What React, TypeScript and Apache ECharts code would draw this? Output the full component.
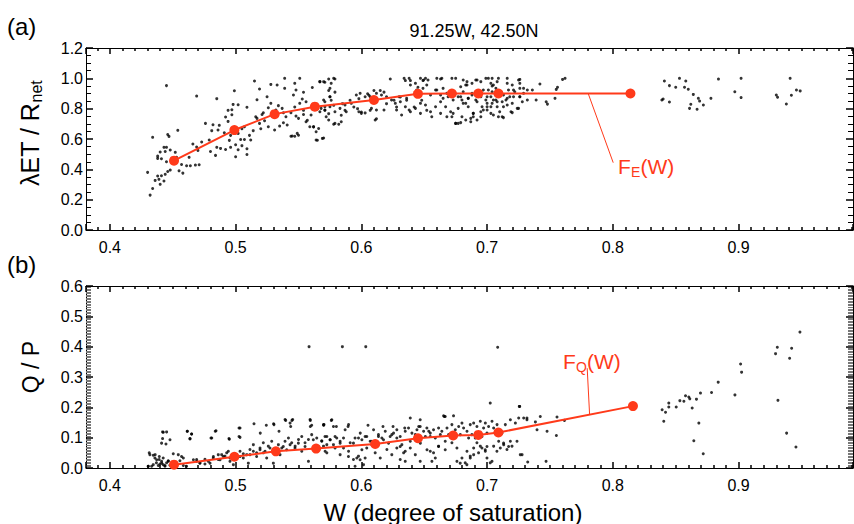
import React, { useEffect, useRef } from "react";
import * as echarts from "echarts";

// ---------- data ----------
const X_MIN = 0.381;
const X_MAX = 0.991;

// Panel (a): lambda ET / Rnet vs W (scatter)
const etPoints: [number, number][] = [
  [0.445, 0.952], [0.469, 0.883], [0.485, 0.866], [0.515, 0.982], [0.519, 0.93], [0.528, 0.96], [0.533, 0.956],
  [0.539, 1.0], [0.551, 1.0], [0.547, 0.967], [0.539, 0.934], [0.548, 0.923], [0.554, 0.908], [0.561, 0.94],
  [0.567, 0.978], [0.571, 0.974], [0.499, 0.918], [0.525, 0.879], [0.517, 0.859], [0.502, 0.826], [0.498, 0.828],
  [0.509, 0.809], [0.494, 0.789], [0.497, 0.793], [0.497, 0.76], [0.492, 0.745], [0.494, 0.716], [0.487, 0.69],
  [0.476, 0.703], [0.482, 0.694], [0.481, 0.655], [0.486, 0.659], [0.491, 0.641], [0.496, 0.624], [0.495, 0.591],
  [0.504, 0.597], [0.507, 0.597], [0.505, 0.556], [0.5, 0.562], [0.496, 0.545], [0.492, 0.531], [0.502, 0.529],
  [0.509, 0.536], [0.5, 0.483], [0.509, 0.498], [0.488, 0.538], [0.485, 0.545], [0.484, 0.492], [0.48, 0.518],
  [0.479, 0.593], [0.473, 0.58], [0.47, 0.525], [0.466, 0.567], [0.469, 0.547], [0.463, 0.479], [0.471, 0.43],
  [0.468, 0.428], [0.464, 0.424], [0.461, 0.424], [0.457, 0.432], [0.455, 0.39], [0.458, 0.375], [0.453, 0.479],
  [0.452, 0.512], [0.445, 0.545], [0.444, 0.518], [0.44, 0.514], [0.438, 0.487], [0.438, 0.472], [0.441, 0.47],
  [0.445, 0.45], [0.448, 0.395], [0.446, 0.386], [0.444, 0.367], [0.441, 0.358], [0.438, 0.356], [0.439, 0.334],
  [0.443, 0.323], [0.44, 0.301], [0.436, 0.327], [0.43, 0.38], [0.434, 0.274], [0.432, 0.23], [0.434, 0.611],
  [0.446, 0.63], [0.447, 0.617], [0.454, 0.657], [0.443, 0.545], [0.448, 0.527],
  [0.522, 0.773], [0.526, 0.806], [0.528, 0.835], [0.532, 0.791], [0.534, 0.82], [0.537, 0.802], [0.538, 0.773],
  [0.54, 0.747], [0.538, 0.707], [0.535, 0.685], [0.531, 0.659], [0.526, 0.681], [0.523, 0.72], [0.519, 0.703],
  [0.52, 0.668], [0.517, 0.736], [0.514, 0.655], [0.511, 0.624], [0.512, 0.593], [0.507, 0.681], [0.505, 0.668],
  [0.502, 0.637], [0.516, 0.747], [0.521, 0.762], [0.541, 0.692], [0.545, 0.62], [0.549, 0.637], [0.55, 0.736],
  [0.544, 0.773], [0.548, 0.751], [0.554, 0.762], [0.556, 0.846], [0.553, 0.864], [0.546, 0.89], [0.551, 0.835],
  [0.556, 0.714], [0.562, 0.681], [0.559, 0.681], [0.564, 0.648], [0.564, 0.593], [0.569, 0.604], [0.56, 0.758],
  [0.567, 0.78], [0.571, 0.813], [0.572, 0.747], [0.574, 0.725], [0.57, 0.857], [0.575, 0.879],
  [0.579, 0.996], [0.574, 0.996], [0.567, 0.978], [0.574, 0.92], [0.579, 0.909], [0.576, 0.855], [0.578, 0.822],
  [0.571, 0.789], [0.574, 0.767], [0.578, 0.697], [0.582, 0.697], [0.584, 0.757], [0.587, 0.789], [0.594, 0.811],
  [0.598, 0.866], [0.605, 0.898], [0.606, 0.888], [0.61, 0.92], [0.615, 0.92], [0.618, 0.909], [0.623, 0.996],
  [0.626, 0.855], [0.631, 0.877], [0.635, 0.985], [0.639, 0.985], [0.643, 0.967], [0.645, 0.941], [0.649, 0.985],
  [0.652, 0.789], [0.607, 0.789], [0.6, 0.778], [0.603, 0.772], [0.612, 0.734], [0.597, 0.8], [0.591, 0.855],
  [0.585, 0.833], [0.62, 0.833], [0.628, 0.811], [0.636, 0.855], [0.642, 0.811], [0.648, 0.855], [0.562, 0.68],
  [0.565, 0.592], [0.57, 0.607], [0.566, 0.669], [0.557, 0.723], [0.554, 0.789], [0.547, 0.811], [0.544, 0.618],
  [0.547, 0.618], [0.55, 0.625],
  [0.578, 1.0], [0.576, 0.967], [0.575, 0.934], [0.57, 0.978], [0.575, 0.879], [0.571, 0.846], [0.568, 0.802],
  [0.571, 0.791], [0.575, 0.813], [0.579, 0.78], [0.583, 0.802], [0.587, 0.824], [0.588, 0.78], [0.592, 0.835],
  [0.596, 0.89], [0.599, 0.901], [0.603, 0.879], [0.607, 0.879], [0.612, 0.901], [0.616, 0.89], [0.62, 0.879],
  [0.634, 1.0], [0.638, 1.0], [0.639, 0.956], [0.647, 1.0], [0.651, 1.0], [0.652, 0.956],
  [0.66, 1.0], [0.664, 1.0], [0.672, 1.0], [0.675, 1.0], [0.679, 0.945], [0.683, 0.956], [0.684, 0.978],
  [0.688, 0.967], [0.692, 0.989], [0.701, 1.0], [0.704, 1.0], [0.703, 0.967], [0.705, 0.956], [0.708, 0.978],
  [0.716, 0.967], [0.72, 0.956], [0.725, 0.989], [0.726, 0.934], [0.721, 0.879], [0.716, 0.868], [0.724, 0.802],
  [0.719, 0.78], [0.712, 0.747], [0.705, 0.758], [0.7, 0.791], [0.695, 0.78], [0.689, 0.747], [0.685, 0.813],
  [0.681, 0.835], [0.677, 0.802], [0.673, 0.769], [0.677, 0.703], [0.675, 0.703], [0.671, 0.78], [0.667, 0.813],
  [0.663, 0.846], [0.659, 0.813], [0.655, 0.78], [0.651, 0.824], [0.647, 0.835], [0.643, 0.802], [0.639, 0.78],
  [0.635, 0.813], [0.631, 0.846], [0.627, 0.835], [0.624, 0.857], [0.63, 0.879], [0.636, 0.868], [0.644, 0.923],
  [0.649, 0.934], [0.655, 0.89], [0.659, 0.923], [0.665, 0.934], [0.668, 0.901], [0.679, 0.879], [0.681, 0.912],
  [0.685, 0.868], [0.688, 0.901], [0.697, 0.923], [0.7, 0.879], [0.704, 0.912], [0.707, 0.857], [0.7, 0.835],
  [0.703, 0.813], [0.708, 0.813], [0.712, 0.846], [0.716, 0.824], [0.692, 0.846], [0.696, 0.813], [0.68, 0.747],
  [0.683, 0.725], [0.579, 0.703], [0.584, 0.714], [0.611, 0.725], [0.612, 0.791], [0.608, 0.802], [0.598, 0.78],
  [0.6, 0.769], [0.618, 0.791], [0.628, 0.791], [0.632, 0.758], [0.638, 0.791], [0.647, 0.769], [0.656, 0.747],
  [0.663, 0.769], [0.668, 0.747], [0.687, 0.714], [0.689, 0.769], [0.692, 0.725], [0.695, 0.747], [0.703, 0.769],
  [0.71, 0.78], [0.713, 0.813], [0.72, 0.835], [0.726, 0.879], [0.729, 0.901], [0.728, 0.846],
  [0.709, 1.0], [0.716, 1.0], [0.726, 0.993], [0.726, 0.967], [0.729, 0.934], [0.732, 0.923], [0.726, 0.879],
  [0.732, 0.857], [0.725, 0.802], [0.72, 0.774], [0.713, 0.741], [0.709, 0.747], [0.739, 0.857], [0.742, 0.963],
  [0.747, 0.846], [0.748, 0.83], [0.754, 0.868], [0.755, 0.927], [0.756, 0.941], [0.76, 0.993], [0.762, 1.0],
  [0.672, 0.747], [0.675, 0.703], [0.679, 0.708], [0.687, 0.736], [0.689, 0.769], [0.697, 0.791], [0.7, 0.813],
  [0.704, 0.835], [0.708, 0.846], [0.715, 0.857], [0.718, 0.879], [0.722, 0.912], [0.736, 0.923],
  [0.6495, 0.989], [0.653, 0.989], [0.663, 0.996], [0.66, 0.923], [0.663, 0.89], [0.665, 0.868], [0.669, 0.879],
  [0.673, 0.857], [0.677, 0.879], [0.68, 0.857], [0.683, 0.835], [0.685, 0.868], [0.688, 0.89], [0.691, 0.857],
  [0.695, 0.879], [0.699, 0.857], [0.703, 0.879], [0.705, 0.857], [0.701, 0.923], [0.704, 0.949], [0.707, 0.934],
  [0.711, 0.912], [0.713, 0.89], [0.717, 0.923], [0.721, 0.923], [0.684, 0.956], [0.681, 0.989], [0.691, 0.989],
  [0.695, 0.978], [0.699, 1.0],
  [0.841, 0.982], [0.845, 0.952], [0.85, 0.941], [0.853, 1.0], [0.857, 0.941], [0.858, 0.982], [0.86, 0.928],
  [0.864, 0.894], [0.868, 0.868], [0.869, 0.85], [0.862, 0.829], [0.861, 0.802], [0.867, 0.796], [0.872, 0.824],
  [0.878, 0.868], [0.839, 0.857], [0.84, 0.864], [0.845, 0.844], [0.884, 0.995], [0.897, 0.912], [0.902, 1.0],
  [0.902, 0.873], [0.93, 0.89], [0.931, 0.875], [0.938, 0.831], [0.941, 1.0], [0.942, 0.888], [0.946, 0.923],
  [0.949, 0.917],
];

// Panel (b): Q / P vs W (scatter)
const qpPoints: [number, number][] = [
  [0.5584, 0.4], [0.5849, 0.4], [0.6035, 0.4], [0.4425, 0.118], [0.4411, 0.082], [0.4478, 0.093],
  [0.4616, 0.121], [0.465, 0.112], [0.4637, 0.096], [0.4804, 0.099], [0.4838, 0.121], [0.4947, 0.097],
  [0.5027, 0.132], [0.5027, 0.104], [0.5146, 0.146], [0.5196, 0.115], [0.5244, 0.141], [0.5302, 0.146],
  [0.5345, 0.121], [0.5398, 0.157], [0.5448, 0.157], [0.5438, 0.137], [0.5594, 0.157], [0.5594, 0.137],
  [0.5629, 0.071], [0.57, 0.141], [0.5761, 0.157], [0.5801, 0.137], [0.5894, 0.137], [0.6053, 0.141],
  [0.6172, 0.137], [0.6252, 0.137], [0.6345, 0.132], [0.6456, 0.137],
  [0.4305, 0.006], [0.4345, 0.011], [0.4313, 0.05], [0.436, 0.044], [0.4393, 0.038], [0.4372, 0.027],
  [0.4412, 0.016], [0.4438, 0.008], [0.4465, 0.022], [0.4491, 0.011], [0.4504, 0.047], [0.4544, 0.044],
  [0.457, 0.038], [0.4584, 0.008], [0.4664, 0.027], [0.469, 0.022], [0.4716, 0.016], [0.4756, 0.029],
  [0.4796, 0.016], [0.4823, 0.038], [0.4862, 0.044], [0.4876, 0.027], [0.4902, 0.038], [0.4929, 0.05],
  [0.4955, 0.033], [0.4982, 0.011], [0.5035, 0.038], [0.5061, 0.047], [0.5101, 0.016], [0.5114, 0.044],
  [0.5141, 0.055], [0.5167, 0.038], [0.5194, 0.06], [0.522, 0.05], [0.5247, 0.033], [0.5273, 0.066],
  [0.53, 0.016], [0.5353, 0.044], [0.5379, 0.071], [0.5406, 0.06], [0.5433, 0.077], [0.5472, 0.066],
  [0.5499, 0.082], [0.5526, 0.055], [0.5552, 0.071], [0.5579, 0.022], [0.5618, 0.093], [0.5658, 0.071],
  [0.5685, 0.088], [0.5725, 0.05], [0.5751, 0.093], [0.5778, 0.077], [0.5804, 0.099], [0.5831, 0.082],
  [0.5858, 0.066], [0.5897, 0.038], [0.5937, 0.082], [0.5977, 0.099], [0.6004, 0.06], [0.599, 0.027],
  [0.603, 0.033], [0.6043, 0.104], [0.6083, 0.088], [0.6136, 0.104], [0.6176, 0.093], [0.6216, 0.082],
  [0.6242, 0.11], [0.6282, 0.099], [0.6309, 0.071], [0.6336, 0.05], [0.6349, 0.022], [0.6389, 0.088],
  [0.6429, 0.11], [0.6469, 0.082], [0.6509, 0.104], [0.6536, 0.121], [0.6522, 0.06],
  [0.437, 0.017], [0.4385, 0.008], [0.4398, 0.013], [0.4411, 0.022], [0.4424, 0.011], [0.4438, 0.006],
  [0.4451, 0.017], [0.4464, 0.024], [0.4477, 0.009], [0.4392, 0.028], [0.4424, 0.033], [0.4318, 0.044],
  [0.4345, 0.042], [0.4358, 0.033], [0.4305, 0.006], [0.4332, 0.006], [0.453, 0.011], [0.4557, 0.024],
  [0.4584, 0.033], [0.461, 0.006], [0.4419, 0.119], [0.4419, 0.097], [0.4451, 0.119], [0.4446, 0.079],
  [0.4615, 0.121], [0.465, 0.112], [0.4637, 0.097], [0.481, 0.099], [0.4844, 0.123], [0.469, 0.028],
  [0.4716, 0.017], [0.4756, 0.013], [0.4783, 0.022], [0.4822, 0.033], [0.4862, 0.028], [0.4889, 0.044],
  [0.4915, 0.039], [0.4942, 0.055], [0.4955, 0.022], [0.5008, 0.044], [0.5035, 0.055], [0.5061, 0.033],
  [0.5088, 0.044], [0.5114, 0.061], [0.5141, 0.077], [0.5167, 0.05], [0.5194, 0.066], [0.522, 0.083],
  [0.5234, 0.055], [0.526, 0.072], [0.5287, 0.088], [0.534, 0.077], [0.5367, 0.066], [0.5393, 0.088],
  [0.542, 0.099], [0.5446, 0.083], [0.5473, 0.072], [0.55, 0.094], [0.5526, 0.104], [0.5552, 0.083],
  [0.5579, 0.094], [0.5605, 0.11], [0.5645, 0.099], [0.5685, 0.09], [0.5711, 0.104], [0.5725, 0.077],
  [0.5035, 0.132], [0.5035, 0.101], [0.495, 0.095], [0.5305, 0.143], [0.5393, 0.16], [0.5454, 0.16],
  [0.5433, 0.148], [0.5592, 0.16], [0.5605, 0.141], [0.5703, 0.143],
  [0.5699, 0.143], [0.5765, 0.159], [0.5778, 0.137], [0.5871, 0.126], [0.5898, 0.143], [0.5725, 0.104],
  [0.5752, 0.093], [0.5791, 0.104], [0.5831, 0.088], [0.5858, 0.099], [0.5911, 0.083], [0.595, 0.099],
  [0.5991, 0.115], [0.6004, 0.093], [0.603, 0.104], [0.607, 0.088], [0.6097, 0.126], [0.6136, 0.11],
  [0.6163, 0.099], [0.619, 0.121], [0.6229, 0.104], [0.6256, 0.115], [0.6282, 0.126], [0.6309, 0.104],
  [0.6349, 0.121], [0.6375, 0.132], [0.6402, 0.115], [0.6442, 0.126], [0.6468, 0.137], [0.6495, 0.121],
  [0.6521, 0.132], [0.6548, 0.115], [0.6574, 0.126], [0.6614, 0.132], [0.664, 0.121], [0.6667, 0.17],
  [0.6681, 0.132], [0.672, 0.143], [0.6747, 0.126], [0.6774, 0.137], [0.68, 0.148], [0.6813, 0.132],
  [0.684, 0.121], [0.6866, 0.143], [0.6893, 0.148], [0.6919, 0.137], [0.6946, 0.154], [0.6972, 0.132],
  [0.6986, 0.148], [0.7012, 0.137], [0.7039, 0.154], [0.7052, 0.132], [0.7079, 0.143], [0.7118, 0.115],
  [0.7145, 0.143], [0.7185, 0.159], [0.7225, 0.148], [0.7251, 0.165], [0.7291, 0.165], [0.7317, 0.159],
  [0.7259, 0.203], [0.666, 0.17], [0.6468, 0.159], [0.6389, 0.165],
  [0.5699, 0.072], [0.5712, 0.055], [0.5791, 0.066], [0.5831, 0.044], [0.5898, 0.055], [0.5937, 0.028],
  [0.5977, 0.039], [0.595, 0.006], [0.6017, 0.011], [0.6043, 0.066], [0.6083, 0.077], [0.611, 0.05],
  [0.615, 0.033], [0.6203, 0.061], [0.6242, 0.044], [0.6282, 0.066], [0.6322, 0.077], [0.6349, 0.055],
  [0.6389, 0.066], [0.6429, 0.044], [0.6468, 0.022], [0.6548, 0.055], [0.6588, 0.033], [0.6614, 0.072],
  [0.6667, 0.088], [0.672, 0.083], [0.676, 0.066], [0.68, 0.033], [0.6826, 0.017], [0.684, 0.055],
  [0.6866, 0.039], [0.6893, 0.066], [0.6919, 0.083], [0.6946, 0.072], [0.6986, 0.055], [0.6999, 0.033],
  [0.7025, 0.017], [0.7052, 0.072], [0.7092, 0.088], [0.7132, 0.077], [0.7158, 0.061], [0.7198, 0.072],
  [0.7238, 0.088], [0.7278, 0.044], [0.6548, 0.104], [0.6588, 0.099], [0.6628, 0.11], [0.6694, 0.11],
  [0.6734, 0.099], [0.6787, 0.11], [0.6853, 0.099], [0.6879, 0.11], [0.6906, 0.099], [0.6959, 0.104],
  [0.6999, 0.115], [0.6309, 0.028], [0.5964, 0.033],
  [0.7084, 0.398], [0.7025, 0.214], [0.7256, 0.203], [0.7317, 0.165], [0.7384, 0.152], [0.7423, 0.17],
  [0.7397, 0.126], [0.7477, 0.121], [0.7556, 0.168], [0.7551, 0.107], [0.7615, 0.157], [0.7264, 0.044],
  [0.7323, 0.02], [0.7469, 0.022], [0.6574, 0.05], [0.6614, 0.071], [0.6667, 0.06], [0.6561, 0.022],
  [0.676, 0.022], [0.6786, 0.016], [0.6839, 0.011], [0.6866, 0.033], [0.6893, 0.044], [0.6932, 0.05],
  [0.6985, 0.06], [0.7039, 0.022], [0.7078, 0.055], [0.7105, 0.066], [0.7131, 0.082], [0.7171, 0.071],
  [0.7185, 0.088], [0.6999, 0.071], [0.6959, 0.066], [0.6654, 0.172], [0.6733, 0.172],
  [0.8392, 0.192], [0.8419, 0.184], [0.8405, 0.154], [0.8445, 0.214], [0.8445, 0.201], [0.8504, 0.201],
  [0.8533, 0.222], [0.8565, 0.22], [0.8578, 0.238], [0.8604, 0.234], [0.8612, 0.228], [0.8631, 0.198],
  [0.8665, 0.227], [0.8697, 0.247], [0.8785, 0.249], [0.8838, 0.283], [0.8971, 0.241], [0.9016, 0.343],
  [0.9024, 0.316], [0.9294, 0.377], [0.9308, 0.398], [0.9422, 0.395], [0.9406, 0.362], [0.9488, 0.448],
  [0.9313, 0.223], [0.9382, 0.115], [0.9456, 0.069], [0.8684, 0.148], [0.8644, 0.09], [0.8719, 0.047],
];

// Binned curves F_E(W) and F_Q(W)
const feW = [0.451, 0.499, 0.531, 0.563, 0.61, 0.645, 0.672, 0.693, 0.709, 0.814];
const feV = [0.457, 0.659, 0.764, 0.813, 0.857, 0.898, 0.9, 0.9, 0.9, 0.9];
const fqW = [0.451, 0.499, 0.532, 0.564, 0.611, 0.645, 0.673, 0.693, 0.709, 0.816];
const fqV = [0.011, 0.037, 0.055, 0.064, 0.079, 0.098, 0.107, 0.109, 0.117, 0.204];

// Annotation leader lines (value space)
const feLeader: [number, number][] = [[0.7804, 0.9], [0.8003, 0.444]];
const fqLeader: [number, number][] = [[0.7815, 0.177], [0.7796, 0.329]];

const yTopMax = 1.2;
const yTopStep = 0.2;
const yBotMax = 0.6;
const yBotStep = 0.1;

// ---------- styling ----------
const FONT = '"Liberation Sans", Arial, Helvetica, sans-serif';
const RED = "#ff3a1a";
const AX = "#000";

function xAxis(gridIndex: number, position: "bottom" | "top", labels: boolean) {
  return {
    type: "value",
    gridIndex,
    position,
    min: X_MIN,
    max: X_MAX,
    axisLine: { show: true, onZero: false, lineStyle: { color: AX, width: 1 } },
    axisTick: { show: true, inside: true, length: 6, lineStyle: { color: AX, width: 1.5 } },
    minorTick: { show: true, splitNumber: 10, length: 3, lineStyle: { color: AX, width: 1.5 } },
    splitLine: { show: false },
    axisLabel: {
      show: labels,
      showMinLabel: false,
      showMaxLabel: false,
      margin: 9,
      color: "#000",
      fontSize: 16,
      fontFamily: FONT,
      formatter: (v: number) => v.toFixed(1),
    },
  };
}

function yAxis(
  gridIndex: number,
  position: "left" | "right",
  labels: boolean,
  max: number,
  step: number,
  minorSplit: number,
  minorColor: string
) {
  return {
    type: "value",
    gridIndex,
    position,
    min: 0,
    max,
    interval: step,
    axisLine: { show: true, onZero: false, lineStyle: { color: AX, width: 1 } },
    axisTick: { show: true, inside: true, length: 7, lineStyle: { color: AX, width: 1.5 } },
    minorTick: { show: true, splitNumber: minorSplit, length: 5, lineStyle: { color: minorColor, width: 1 } },
    splitLine: { show: false },
    axisLabel: {
      show: labels,
      margin: 3,
      color: "#000",
      fontSize: 16,
      fontFamily: FONT,
      formatter: (v: number) => v.toFixed(1),
    },
  };
}

function txt(x: number, y: number, text: string, fontSize: number, color = "#000", align = "left") {
  return {
    type: "text",
    x,
    y,
    style: { text, fontSize, fontFamily: FONT, fill: color, textAlign: align, textVerticalAlign: "middle" },
  };
}

export default function App() {
  const ref = useRef<HTMLDivElement>(null);

  useEffect(() => {
    if (!ref.current) return;
    const chart = echarts.init(ref.current, undefined, { renderer: "svg" });

    const scatterStyle = { color: "#000" };

    const option: any = {
      animation: false,
      grid: [
        { left: 86, top: 48, width: 767, height: 182 },
        { left: 86, top: 286, width: 767, height: 182 },
      ],
      xAxis: [
        xAxis(0, "bottom", true),
        xAxis(0, "top", false),
        xAxis(1, "bottom", true),
        xAxis(1, "top", false),
      ],
      yAxis: [
        yAxis(0, "left", true, yTopMax, yTopStep, 4, "#000"),
        yAxis(0, "right", false, yTopMax, yTopStep, 4, "#000"),
        yAxis(1, "left", true, yBotMax, yBotStep, 20, "#777"),
        yAxis(1, "right", false, yBotMax, yBotStep, 20, "#777"),
      ],
      series: [
        {
          type: "scatter",
          xAxisIndex: 0,
          yAxisIndex: 0,
          data: etPoints,
          symbol: "circle",
          symbolSize: 3,
          itemStyle: scatterStyle,
        },
        {
          type: "line",
          xAxisIndex: 0,
          yAxisIndex: 0,
          data: feLeader,
          symbol: "none",
          lineStyle: { color: RED, width: 1 },
        },
        {
          type: "line",
          xAxisIndex: 0,
          yAxisIndex: 0,
          data: feW.map((w, i) => [w, feV[i]]),
          symbol: "circle",
          symbolSize: 10,
          showAllSymbol: true,
          itemStyle: { color: RED },
          lineStyle: { color: RED, width: 2 },
        },
        {
          type: "scatter",
          xAxisIndex: 2,
          yAxisIndex: 2,
          data: qpPoints,
          symbol: "circle",
          symbolSize: 3,
          itemStyle: scatterStyle,
        },
        {
          type: "line",
          xAxisIndex: 2,
          yAxisIndex: 2,
          data: fqLeader,
          symbol: "none",
          lineStyle: { color: RED, width: 1 },
        },
        {
          type: "line",
          xAxisIndex: 2,
          yAxisIndex: 2,
          data: fqW.map((w, i) => [w, fqV[i]]),
          symbol: "circle",
          symbolSize: 10,
          showAllSymbol: true,
          itemStyle: { color: RED },
          lineStyle: { color: RED, width: 2 },
        },
      ],
      graphic: [
        txt(7, 26, "(a)", 24),
        txt(474, 31, "91.25W, 42.50N", 18, "#000", "center"),
        txt(7, 264, "(b)", 24),
        {
          type: "group",
          x: 30,
          y: 133,
          rotation: Math.PI / 2,
          children: [
            txt(-53, 0, "\u03bbET / R", 25),
            txt(30.5, 6, "net", 16),
          ],
        },
        {
          type: "group",
          x: 31,
          y: 367,
          rotation: Math.PI / 2,
          children: [txt(0, 0, "Q / P", 23, "#000", "center")],
        },
        txt(453, 512, "W (degree of saturation)", 24, "#000", "center"),
        txt(618, 166, "F", 21, RED),
        txt(631, 172, "E", 14, RED),
        txt(640.5, 166, "(W)", 21, RED),
        txt(563, 361, "F", 21, RED),
        txt(576, 367, "Q", 14, RED),
        txt(587, 361, "(W)", 21, RED),
      ],
    };

    chart.setOption(option);
    return () => chart.dispose();
  }, []);

  return (
    <div
      ref={ref}
      style={{ position: "absolute", left: 0, top: 0, width: 854, height: 524, background: "#fff" }}
    />
  );
}
